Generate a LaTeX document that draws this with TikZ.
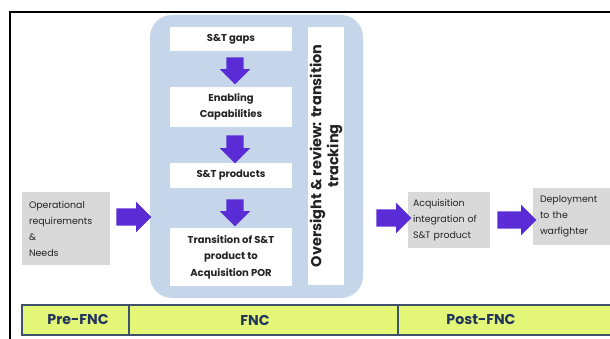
\documentclass[tikz,border=0pt]{standalone}
\usepackage{fontspec}
\setmainfont{Poppins}
\usetikzlibrary{shapes.arrows}
\definecolor{arrowc}{RGB}{90,44,214}
\definecolor{fncblue}{RGB}{197,214,234}
\definecolor{boxgray}{RGB}{217,217,217}
\definecolor{barfill}{RGB}{228,246,120}
\definecolor{barline}{RGB}{62,82,108}
\definecolor{bartxt}{RGB}{32,52,92}
\definecolor{txt}{RGB}{35,35,35}
\begin{document}
\begin{tikzpicture}[x=1pt,y=-1pt,
 wbox/.style={fill=white, inner sep=0pt, minimum width=122pt, align=center, text=txt, font=\fontsize{10}{16.5}\selectfont\bfseries},
 gbox/.style={fill=boxgray, inner ysep=0pt, align=left, text=txt, font=\fontsize{9.4}{16}\selectfont},
 barcell/.style={draw=barline, line width=1.2pt, fill=barfill, inner sep=0pt, minimum height=30pt},
 bartext/.style={text=bartxt, font=\fontsize{14.2}{15}\selectfont\bfseries},
 blockarrow/.style={single arrow, fill=arrowc, draw=none, inner sep=8.5pt, minimum width=30pt, single arrow head extend=6.5pt, single arrow tip angle=90}
]
\useasboundingbox (0,0) rectangle (610,339);
\fill[white] (0,0) rectangle (610,339);
\draw[line width=2pt, black] (660,12) -- (10,12) -- (10,360);
% FNC panel
\node[fill=fncblue, rounded corners=22pt, minimum width=213pt, minimum height=283pt, inner sep=0pt] (fnc) at (256.5,156.5) {};
\node[wbox, minimum height=24pt] (gaps) at (231,39) {S\&T gaps};
\node[wbox, minimum height=40pt] (enab) at (231,107) {Enabling\\Capabilities};
\node[wbox, minimum height=25pt] (prod) at (231,175.5) {S\&T products};
\node[wbox, minimum height=58pt] (trans) at (231,257) {Transition of S\&T\\product to\\Acquisition POR};
\node[fill=white, inner sep=0pt, minimum width=36pt, minimum height=258pt] (over) at (326,156) {};
\node[rotate=90, align=center, text=txt, font=\fontsize{14.5}{17}\selectfont\bfseries] (overtxt) at (over.center) {Oversight \& review: transition\\tracking};
% arrows inside panel
\node[blockarrow, minimum height=27pt, shape border rotate=270] (a1) at (235,66.5) {};
\node[blockarrow, minimum height=28pt, shape border rotate=270] (a2) at (235,145) {};
\node[blockarrow, minimum height=27pt, shape border rotate=270] (a3) at (235,208.5) {};
% side boxes
\node[gbox, text width=74pt, inner xsep=7pt, minimum height=73pt] (oper) at (66,228.5) {Operational\\requirements\\\&\\Needs};
\node[gbox, text width=72pt, inner xsep=5pt, minimum height=56pt] (acq) at (449,220) {Acquisition\\integration of\\S\&T product};
\node[gbox, text width=70pt, inner xsep=7pt, minimum height=57pt] (dep) at (575,216.5) {Deployment\\to the\\warfighter};
\node[blockarrow, minimum height=35pt] (aL) at (129.5,217) {};
\node[blockarrow, minimum height=35pt] (aR) at (389.5,218) {};
\node[blockarrow, minimum height=39pt] (aD) at (512.5,220) {};
% bottom bar
\node[barcell, minimum width=107pt] (pre) at (75.5,320) {};
\node[barcell, minimum width=269pt] (fncb) at (263.5,320) {};
\node[barcell, minimum width=252pt] (post) at (524,320) {};
\node[bartext] (pretxt) at (78,320) {Pre-FNC};
\node[bartext] (fnctxt) at (255,320) {FNC};
\node[bartext] (posttxt) at (481,320) {Post-FNC};
\end{tikzpicture}
\end{document}
